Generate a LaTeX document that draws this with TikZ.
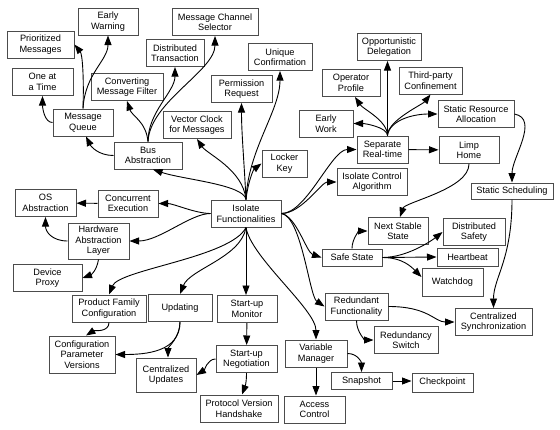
\documentclass[tikz,border=0pt]{standalone}
\usepackage{fontspec}
\setmainfont{Liberation Sans}
\usetikzlibrary{arrows.meta}

\begin{document}
\begin{tikzpicture}[
    x=1pt, y=-1pt,
    box/.style={draw=black!70, line width=1pt, rectangle, align=center, inner xsep=3pt, inner ysep=3pt, minimum width=60pt, minimum height=27pt, font=\fontsize{9.2}{10.5}\selectfont},
    slim/.style={minimum height=17pt},
    arrow/.style={-{Triangle[length=9.5pt,width=7pt]}, line width=0.9pt}
]
\useasboundingbox (0,0) rectangle (560,429);

% Centre
\node[box, minimum width=70pt] (isolate) at (246,213.5) {Isolate\\Functionalities};

% Bus and messaging (top left)
\node[box, minimum width=68pt] (bus) at (148,155.5) {Bus\\Abstraction};
\node[box] (mqueue) at (83,122.5) {Message\\Queue};
\node[box, minimum width=61pt] (oneatime) at (42.5,82) {One at\\a Time};
\node[box, minimum width=67pt] (prio) at (40.5,44.5) {Prioritized\\Messages};
\node[box] (earlywarn) at (108,21.5) {Early\\Warning};
\node[box, minimum width=72pt] (convfilter) at (127,87) {Converting\\Message Filter};
\node[box, minimum width=58pt] (disttrans) at (175,53) {Distributed\\Transaction};
\node[box, minimum width=86pt] (chansel) at (215,22) {Message Channel\\Selector};
\node[box, minimum width=68pt] (vclock) at (197,125) {Vector Clock\\for Messages};
\node[box, minimum width=61pt] (permreq) at (241.5,89) {Permission\\Request};
\node[box, minimum width=64pt] (uniqconf) at (280,57) {Unique\\Confirmation};
\node[box, minimum width=45pt] (locker) at (284.5,163.5) {Locker\\Key};

% OS and hardware (left)
\node[box] (concexec) at (128,203.5) {Concurrent\\Execution};
\node[box, minimum width=61pt] (osabs) at (45.5,203) {OS\\Abstraction};
\node[box, minimum width=61pt, minimum height=36pt] (hal) at (98.5,241) {Hardware\\Abstraction\\Layer};
\node[box, minimum width=69pt] (devproxy) at (47.5,278) {Device\\Proxy};

% Configuration and start-up (bottom left)
\node[box, minimum width=74pt] (pfc) at (109,308.5) {Product Family\\Configuration};
\node[box, minimum width=64pt] (updating) at (180,308) {Updating};
\node[box, minimum width=66pt, minimum height=37pt] (cpv) at (82,354.5) {Configuration\\Parameter\\Versions};
\node[box, minimum height=34pt] (cupd) at (166,375) {Centralized\\Updates};
\node[box] (sumon) at (247,309) {Start-up\\Monitor};
\node[box, minimum width=61pt] (suneg) at (246.5,359) {Start-up\\Negotiation};
\node[box, minimum width=78pt] (pvh) at (239,408.5) {Protocol Version\\Handshake};

% Variables and redundancy (bottom right)
\node[box, minimum width=62pt] (varman) at (316,353.5) {Variable\\Manager};
\node[box, minimum width=61pt] (access) at (314.5,409.5) {Access\\Control};
\node[box, slim, minimum width=61pt] (snapshot) at (361.5,381) {Snapshot};
\node[box, slim, minimum width=61pt, minimum height=19pt] (checkpt) at (442.5,382.5) {Checkpoint};
\node[box, minimum width=63pt] (redfunc) at (356.5,306.5) {Redundant\\Functionality};
\node[box, minimum width=64pt] (redswitch) at (406,340) {Redundancy\\Switch};
\node[box, minimum width=77pt] (censync) at (493.5,322) {Centralized\\Synchronization};

% Safe state (right)
\node[box, slim] (safestate) at (352,257.5) {Safe State};
\node[box] (nss) at (398,231) {Next Stable\\State};
\node[box, minimum width=62pt] (distsafe) at (474,232) {Distributed\\Safety};
\node[box, slim, minimum width=61pt, minimum height=18pt] (heartbeat) at (467.5,257) {Heartbeat};
\node[box, minimum width=61pt, minimum height=28pt] (watchdog) at (452.5,282) {Watchdog};

% Real-time (top right)
\node[box, minimum width=51pt] (sepreal) at (382.5,149.5) {Separate\\Real-time};
\node[box, minimum width=70pt] (ica) at (372,182) {Isolate Control\\Algorithm};
\node[box] (limp) at (469,150) {Limp\\Home};
\node[box, slim, minimum width=82pt, minimum height=16pt] (statsched) at (512,191) {Static Scheduling};
\node[box, minimum width=54pt] (earlywork) at (326,123.5) {Early\\Work};
\node[box, minimum width=58pt] (opprof) at (351,83) {Operator\\Profile};
\node[box, minimum width=64pt] (oppdel) at (389,47) {Opportunistic\\Delegation};
\node[box, minimum width=63pt] (thirdparty) at (430.5,80.5) {Third-party\\Confinement};
\node[box, minimum width=76pt] (sra) at (476,114) {Static Resource\\Allocation};

% Isolate Functionalities to its neighbours
\draw[arrow] (isolate.north) .. controls +(-2,-15) and +(30,10) .. ([xshift=5pt]bus.south);
\draw[arrow] (isolate.north) .. controls +(-3,-30) and +(10,15) .. (vclock.south);
\draw[arrow] (isolate.north) .. controls +(-2,-40) and +(0,30) .. (permreq.south);
\draw[arrow] (isolate.north) .. controls +(2,-50) and +(0,40) .. (uniqconf.south);
\draw[arrow] (isolate.north) .. controls +(2,-18) and +(-8,6) .. (locker.west);
\draw[arrow] (isolate.west) .. controls +(-15,0) and +(15,0) .. (concexec.east);
\draw[arrow] (isolate.west) .. controls +(-20,0) and +(30,0) .. (hal.east);
\draw[arrow] (isolate.south) .. controls +(-15,30) and +(10,-25) .. (pfc.north);
\draw[arrow] (isolate.south) .. controls +(-5,30) and +(10,-25) .. (updating.north);
\draw[arrow] (isolate.south) -- (isolate.south |- sumon.north);
\draw[arrow] (isolate.south) .. controls +(5,30) and +(0,-30) .. (varman.north);
\draw[arrow] (isolate.east) .. controls +(20,3) and +(-15,-10) .. (redfunc.west);
\draw[arrow] (isolate.east) .. controls +(15,3) and +(-15,-5) .. (safestate.west);
\draw[arrow] (isolate.east) .. controls +(20,0) and +(-15,0) .. (ica.west);
\draw[arrow] (isolate.east) .. controls +(25,0) and +(-25,0) .. (sepreal.west);

% Messaging
\draw[arrow] (bus.west) .. controls +(-15,0) and +(5,10) .. ([xshift=3pt]mqueue.south);
\draw[arrow] (bus.north) .. controls +(-2,-20) and +(5,15) .. (convfilter.south);
\draw[arrow] (bus.north) .. controls +(0,-30) and +(0,25) .. (disttrans.south);
\draw[arrow] (bus.north) .. controls +(2,-40) and +(0,35) .. (chansel.south);
\draw[arrow] (mqueue.west) .. controls +(-8,0) and +(0,12) .. (oneatime.south);
\draw[arrow] (mqueue.north) .. controls +(1,-30) and +(8,10) .. (prio.east);
\draw[arrow] (mqueue.north) .. controls +(2,-35) and +(0,25) .. (earlywarn.south);

% OS and hardware
\draw[arrow] (concexec) -- (osabs);
\draw[arrow] (hal.west) .. controls +(-15,0) and +(0,15) .. (osabs.south);
\draw[arrow] (hal.south) .. controls +(-2,12) and +(8,-3) .. (devproxy.east);

% Configuration and start-up
\draw[arrow] (pfc.south) .. controls +(0,10) and +(8,-5) .. ([xshift=4pt]cpv.north);
\draw[arrow] (updating.south) .. controls +(0,30) and +(30,0) .. (cpv.east);
\draw[arrow] (updating.south) .. controls +(0,15) and +(0,-10) .. ([xshift=2pt]cupd.north);
\draw[arrow] (sumon) -- (suneg);
\draw[arrow] (suneg.west) .. controls +(-8,0) and +(8,-5) .. (cupd.east);
\draw[arrow] (suneg.south) .. controls +(0,10) and +(3,-8) .. ([xshift=3pt]pvh.north);

% Variables and redundancy
\draw[arrow] (varman.south) -- (varman.south |- access.north);
\draw[arrow] (varman.east) .. controls +(10,0) and +(0,-10) .. (snapshot.north);
\draw[arrow] (snapshot.east) -- (snapshot.east -| checkpt.west);
\draw[arrow] (redfunc.south) .. controls +(0,12) and +(-8,0) .. (redswitch.west);
\draw[arrow] (redfunc.east) .. controls +(40,0) and +(-20,0) .. (censync.west);
\draw[arrow] (statsched.south) .. controls +(0,60) and +(0,-30) .. (censync.north);
\draw[arrow] (sra.east) .. controls +(25,5) and +(0,-25) .. (statsched.north);

% Safe state
\draw[arrow] (safestate.north) .. controls +(0,-10) and +(-8,0) .. (nss.west);
\draw[arrow] (safestate.east) .. controls +(25,0) and +(-10,8) .. (distsafe.west);
\draw[arrow] (safestate.east) -- (heartbeat.west);
\draw[arrow] (safestate.east) .. controls +(20,0) and +(-10,-10) .. ([yshift=5pt]watchdog.west);
\draw[arrow] (limp.south) .. controls +(0,25) and +(5,-15) .. ([xshift=2pt]nss.north);

% Real-time
\draw[arrow] (sepreal) -- (limp);
\draw[arrow] ([xshift=5pt]sepreal.north) .. controls +(0,-8) and +(12,0) .. (earlywork.east);
\draw[arrow] ([xshift=5pt]sepreal.north) .. controls +(0,-15) and +(8,12) .. ([xshift=4pt]opprof.south);
\draw[arrow] ([xshift=5pt]sepreal.north) -- ([xshift=5pt]sepreal.north |- oppdel.south);
\draw[arrow] ([xshift=5pt]sepreal.north) .. controls +(0,-15) and +(-8,10) .. (thirdparty.south);
\draw[arrow] ([xshift=5pt]sepreal.north) .. controls +(2,-15) and +(-25,0) .. (sra.west);

\end{tikzpicture}
\end{document}
